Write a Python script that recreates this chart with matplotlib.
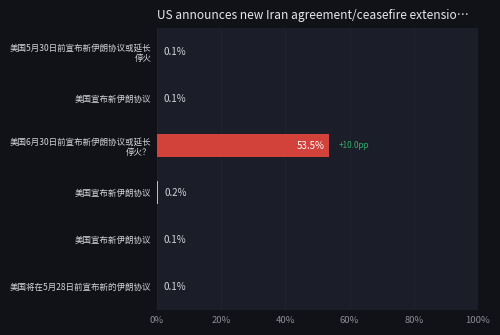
import matplotlib
matplotlib.use("Agg")
import matplotlib.pyplot as plt

plt.rcParams['font.family'] = ['Noto Sans CJK SC', 'DejaVu Sans']

title = "US announces new Iran agreement/ceasefire extensio\u2026"
categories = [
    "美国5月30日前宣布新伊朗协议或延长\n停火",
    "美国宣布新伊朗协议",
    "美国6月30日前宣布新伊朗协议或延长\n停火？",
    "美国宣布新伊朗协议",
    "美国宣布新伊朗协议",
    "美国将在5月28日前宣布新的伊朗协议",
]
values = [0.1, 0.1, 53.5, 0.2, 0.1, 0.1]
deltas = [None, None, "+10.0pp", None, None, None]
highlight = [False, False, True, False, False, False]
xticks = [0, 20, 40, 60, 80, 100]

fig_bg = "#111217"
ax_bg = "#1b1d28"

fig = plt.figure(figsize=(5, 3.35), dpi=100, facecolor=fig_bg)
ax = fig.add_axes([0.314, 0.0746, 0.642, 0.8418])
ax.set_facecolor(ax_bg)

ys = list(range(len(categories)))
colors = ["#d2413a" if h else "#b8bcc8" for h in highlight]
ax.barh(ys, values, height=0.47, color=colors, zorder=3)

ax.set_xlim(0, 100)
ax.set_ylim(len(categories) - 0.5, -0.5)
ax.set_yticks(ys)
ax.set_yticklabels(categories, fontsize=6.1, color="#d4d6dc", linespacing=1.25)
ax.set_xticks(xticks)
ax.set_xticklabels([f"{t}%" for t in xticks], fontsize=6.8, color="#8b8e9a")
ax.tick_params(axis='both', length=0, pad=4)
ax.grid(axis='x', color="#22242f", linewidth=0.6, zorder=0)
for s in ax.spines.values():
    s.set_visible(False)

for y, v, d, h in zip(ys, values, deltas, highlight):
    if h:
        ax.text(v - 1.2, y, f"{v}%", ha='right', va='center', fontsize=7, color="#ffffff", zorder=4)
        if d:
            ax.text(v + 3, y, d, ha='left', va='center', fontsize=5.8, color="#2fb36a", zorder=4)
    else:
        ax.text(v + 2, y, f"{v}%", ha='left', va='center', fontsize=7, color="#d4d6dc", zorder=4)

fig.text(0.314, 0.955, title, ha='left', va='center', fontsize=8.6, color="#e6e7ea")

fig.savefig("out.png", dpi=100, facecolor=fig_bg)
